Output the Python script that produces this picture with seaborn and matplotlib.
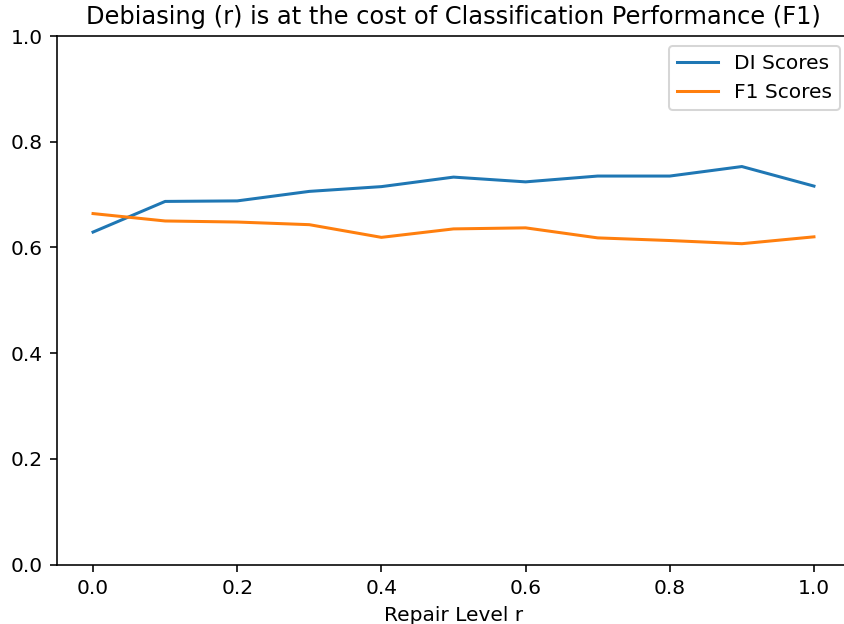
import pandas as pd
import matplotlib
matplotlib.use("Agg")
import matplotlib.pyplot as plt
import seaborn as sns

# repair levels and scores
repair_levels = [0.0, 0.1, 0.2, 0.3, 0.4, 0.5, 0.6, 0.7, 0.8, 0.9, 1.0]
di_scores = [0.629, 0.687, 0.688, 0.706, 0.715, 0.733, 0.724, 0.735, 0.735, 0.753, 0.716]
f1_scores = [0.664, 0.650, 0.648, 0.643, 0.619, 0.635, 0.637, 0.618, 0.613, 0.607, 0.620]

df = pd.DataFrame({"r": repair_levels, "DI Scores": di_scores, "F1 Scores": f1_scores})
long_df = df.melt(id_vars="r", var_name="metric", value_name="score")

dpi = 145
W, H = 844, 624
fig = plt.figure(figsize=(W / dpi, H / dpi), dpi=dpi)
# axes box placed like the reference (right edge runs slightly past the image)
ax = fig.add_axes([57 / W, (H - 564.5) / H, 793 / W, 528.5 / H])

sns.lineplot(data=long_df, x="r", y="score", hue="metric",
             palette=["#1f77b4", "#ff7f0e"], ax=ax)

ax.set_ylim(0, 1)
ax.set_title("Debiasing (r) is at the cost of Classification Performance (F1)")
ax.set_xlabel("Repair Level r")
ax.set_ylabel("")
ax.legend(title=None, loc="upper right")

plt.savefig("out.png", dpi=dpi)
plt.close()
